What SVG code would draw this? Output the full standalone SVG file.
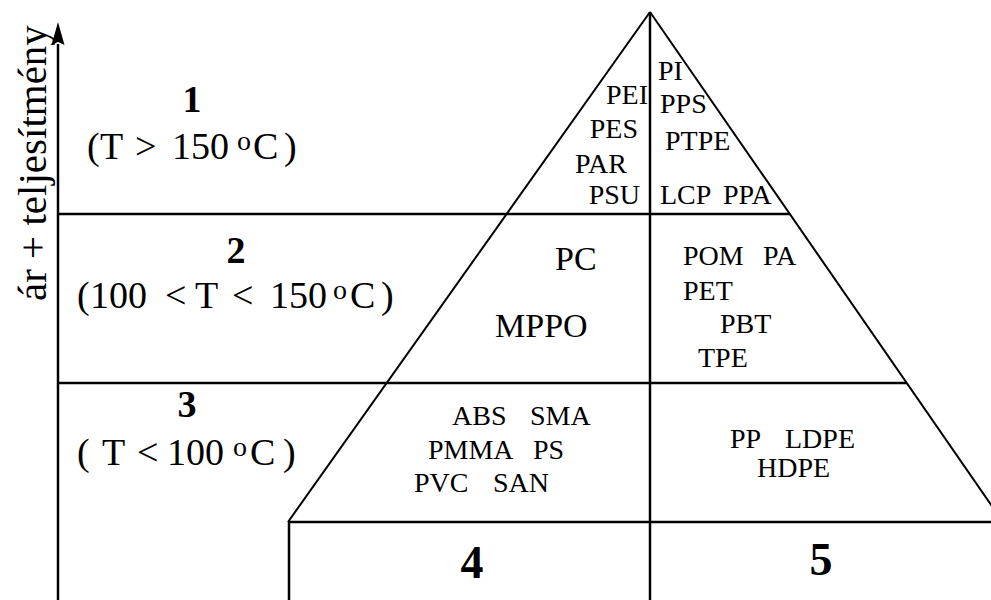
<svg xmlns="http://www.w3.org/2000/svg" width="991" height="600" viewBox="0 0 991 600">
<style>
  .ln { stroke:#000; stroke-width:2.5; fill:none; stroke-linecap:butt; }
  .dg { stroke:#000; stroke-width:2; fill:none; }
  text { font-family:"Liberation Serif","Times New Roman",serif; fill:#000; }
  .big { font-size:38px; }
  .num { font-size:38px; font-weight:bold; text-anchor:middle; }
  .num2 { font-size:46px; font-weight:bold; text-anchor:middle; }
  .sup { font-size:28px; }
  .p { font-size:28px; }
  .pm { font-size:34px; }
  .ax { font-size:41px; }
</style>
<rect width="991" height="600" fill="#fff"/>
<g id="connectors">
  <line class="ln" x1="58" y1="44" x2="58" y2="600"/>
  <path d="M58,22 L64.5,45 L58,42 L51.5,45 Z" fill="#000"/>
  <line class="ln" x1="58" y1="214" x2="790" y2="214"/>
  <line class="ln" x1="58" y1="383" x2="907" y2="383"/>
  <line class="ln" x1="288" y1="522" x2="991" y2="522"/>
  <line class="dg" x1="650" y1="12" x2="288" y2="522"/>
  <line class="dg" x1="650" y1="12" x2="1003" y2="522"/>
  <line class="ln" x1="650" y1="12" x2="650" y2="600"/>
  <line class="ln" x1="289" y1="522" x2="289" y2="600"/>
</g>
<g id="axis-label">
  <text class="ax" transform="translate(46,301) rotate(-90)">ár + teljesítmény</text>
</g>
<g id="level1">
  <text class="num" x="192" y="112">1</text>
  <text class="big" y="159"><tspan x="87 100 135 172">(T&gt;150</tspan><tspan class="sup" x="237" y="150">o</tspan><tspan x="253" y="159">C</tspan><tspan x="284" y="159">)</tspan></text>
</g>
<g id="level2">
  <text class="num" x="236" y="263">2</text>
  <text class="big" y="308"><tspan x="77 90">(100</tspan><tspan x="165 195 232 270">&lt;T&lt;150</tspan><tspan class="sup" x="333" y="299">o</tspan><tspan x="350" y="308">C</tspan><tspan x="381" y="308">)</tspan></text>
</g>
<g id="level3">
  <text class="num" x="187" y="417">3</text>
  <text class="big" y="465"><tspan x="77 102 137 167">(T&lt;100</tspan><tspan class="sup" x="233" y="456">o</tspan><tspan x="250" y="465">C</tspan><tspan x="283" y="465">)</tspan></text>
</g>
<g id="level4">
  <text class="num2" x="472" y="578">4</text>
</g>
<g id="level5">
  <text class="num2" x="821" y="575">5</text>
</g>
<g id="top-left">
  <text class="p" x="648" y="104" text-anchor="end">PEI</text>
  <text class="p" x="638" y="138" text-anchor="end">PES</text>
  <text class="p" x="575" y="173">PAR</text>
  <text class="p" x="640" y="204" text-anchor="end">PSU</text>
</g>
<g id="top-right">
  <text class="p" x="658" y="80">PI</text>
  <text class="p" x="660" y="113">PPS</text>
  <text class="p" x="665" y="150">PTPE</text>
  <text class="p" x="660" y="204">LCP</text>
  <text class="p" x="723" y="204">PPA</text>
</g>
<g id="mid-left">
  <text class="pm" x="555" y="270">PC</text>
  <text class="pm" x="495" y="337">MPPO</text>
</g>
<g id="mid-right">
  <text class="p" x="683" y="265">POM</text>
  <text class="p" x="763" y="265">PA</text>
  <text class="p" x="683" y="300">PET</text>
  <text class="p" x="720" y="333">PBT</text>
  <text class="p" x="698" y="367">TPE</text>
</g>
<g id="low-left">
  <text class="p" x="452" y="425">ABS</text>
  <text class="p" x="530" y="425">SMA</text>
  <text class="p" x="428" y="459">PMMA</text>
  <text class="p" x="533" y="459">PS</text>
  <text class="p" x="414" y="492">PVC</text>
  <text class="p" x="493" y="492">SAN</text>
</g>
<g id="low-right">
  <text class="p" x="730" y="448">PP</text>
  <text class="p" x="785" y="448">LDPE</text>
  <text class="p" x="757" y="477">HDPE</text>
</g>
</svg>
